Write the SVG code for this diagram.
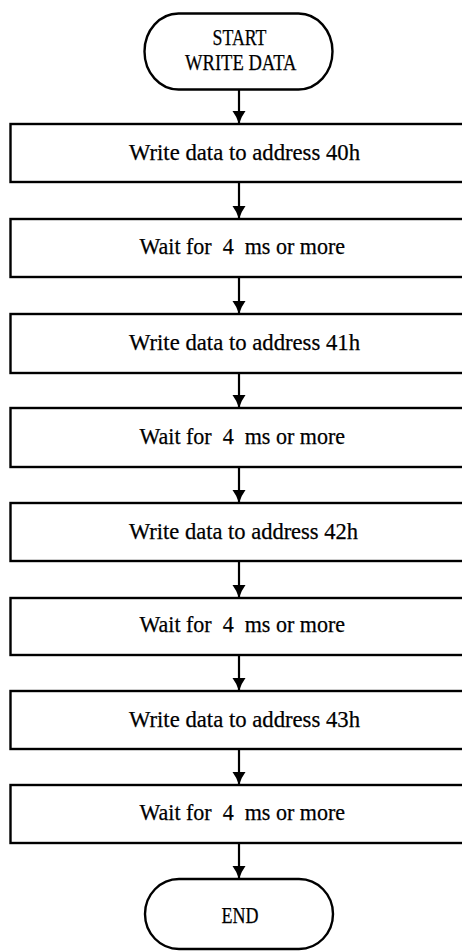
<svg xmlns="http://www.w3.org/2000/svg" width="462" height="952" viewBox="0 0 462 952">
<style>
.box{fill:#fff;stroke:#000;stroke-width:2.4}
.t{font-family:"Liberation Serif","Times New Roman",serif;font-size:23px;fill:#000;stroke:#000;stroke-width:0.25}
.c{stroke:#000;stroke-width:2.2;fill:none}
</style>
<defs>
<marker id="ah" markerWidth="14" markerHeight="14" refX="12" refY="7" orient="auto" markerUnits="userSpaceOnUse">
<path d="M0,0.5 Q6,5 13,7 Q6,9 0,13.5 Z" fill="#000"/>
</marker>
</defs>
<g id="connectors">
<line class="c" x1="239" y1="90" x2="239" y2="123" marker-end="url(#ah)"/>
<line class="c" x1="239" y1="183" x2="239" y2="218" marker-end="url(#ah)"/>
<line class="c" x1="239" y1="277" x2="239" y2="313" marker-end="url(#ah)"/>
<line class="c" x1="239" y1="373" x2="239" y2="407" marker-end="url(#ah)"/>
<line class="c" x1="239" y1="467" x2="239" y2="502" marker-end="url(#ah)"/>
<line class="c" x1="239" y1="561" x2="239" y2="597" marker-end="url(#ah)"/>
<line class="c" x1="239" y1="655" x2="239" y2="690" marker-end="url(#ah)"/>
<line class="c" x1="239" y1="749" x2="239" y2="784" marker-end="url(#ah)"/>
<line class="c" x1="239" y1="843" x2="239" y2="878" marker-end="url(#ah)"/>
</g>
<g id="start">
<rect class="box" x="144.5" y="13.5" width="188" height="76" rx="34" ry="38"/>
<text class="t" x="212.5" y="45" textLength="54" lengthAdjust="spacingAndGlyphs">START</text>
<text class="t" x="185" y="70" textLength="111.5" lengthAdjust="spacingAndGlyphs">WRITE DATA</text>
</g>
<g id="n1">
<rect class="box" x="10.5" y="124" width="460" height="58"/>
<text class="t" x="129" y="160" textLength="231" lengthAdjust="spacingAndGlyphs">Write data to address 40h</text>
</g>
<g id="n2">
<rect class="box" x="10.5" y="219" width="460" height="58"/>
<text class="t" x="139.5" y="254" textLength="205.5" lengthAdjust="spacingAndGlyphs" xml:space="preserve">Wait for  4  ms or more</text>
</g>
<g id="n3">
<rect class="box" x="10.5" y="314" width="460" height="59"/>
<text class="t" x="129" y="350" textLength="231" lengthAdjust="spacingAndGlyphs">Write data to address 41h</text>
</g>
<g id="n4">
<rect class="box" x="10.5" y="408" width="460" height="59"/>
<text class="t" x="139.5" y="444" textLength="205.5" lengthAdjust="spacingAndGlyphs" xml:space="preserve">Wait for  4  ms or more</text>
</g>
<g id="n5">
<rect class="box" x="10.5" y="503" width="460" height="58"/>
<text class="t" x="129" y="539" textLength="229" lengthAdjust="spacingAndGlyphs">Write data to address 42h</text>
</g>
<g id="n6">
<rect class="box" x="10.5" y="598" width="460" height="57"/>
<text class="t" x="139.5" y="632" textLength="205.5" lengthAdjust="spacingAndGlyphs" xml:space="preserve">Wait for  4  ms or more</text>
</g>
<g id="n7">
<rect class="box" x="10.5" y="691" width="460" height="58"/>
<text class="t" x="129" y="727" textLength="231" lengthAdjust="spacingAndGlyphs">Write data to address 43h</text>
</g>
<g id="n8">
<rect class="box" x="10.5" y="785" width="460" height="58"/>
<text class="t" x="139.5" y="820" textLength="205.5" lengthAdjust="spacingAndGlyphs" xml:space="preserve">Wait for  4  ms or more</text>
</g>
<g id="end">
<rect class="box" x="145" y="879" width="188" height="70" rx="34" ry="35"/>
<text class="t" x="221.5" y="923" textLength="37" lengthAdjust="spacingAndGlyphs">END</text>
</g>
</svg>
